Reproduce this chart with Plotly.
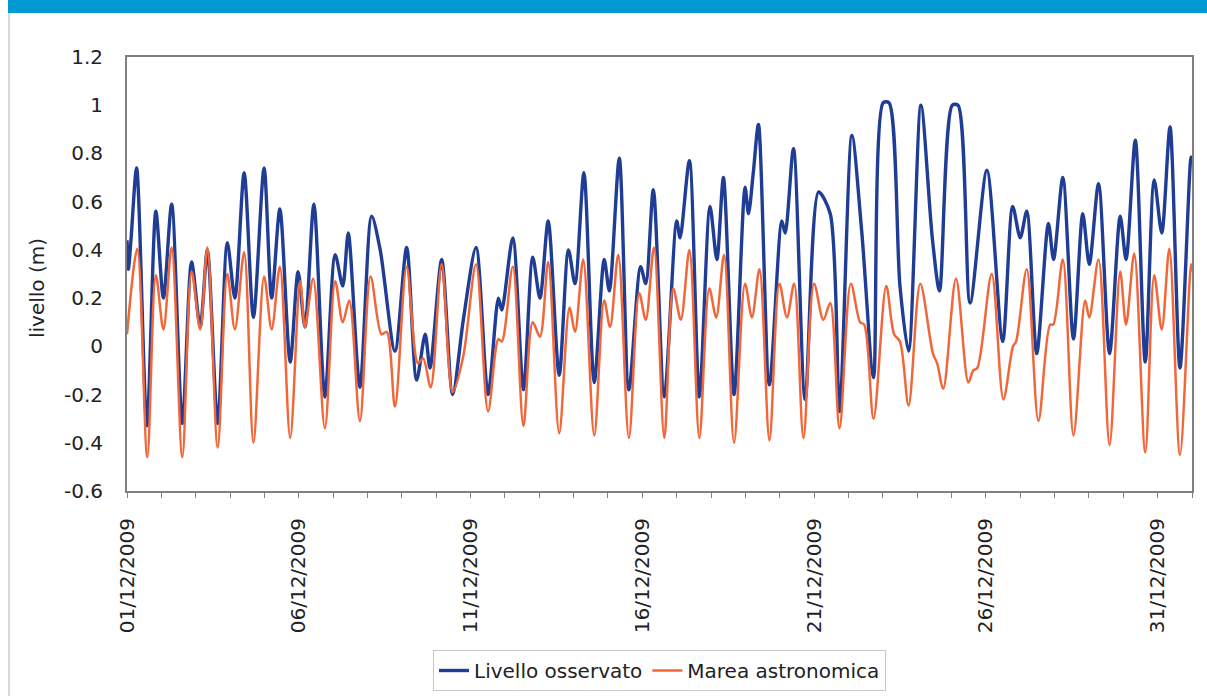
import pandas as pd
import plotly.graph_objects as go

# ---- data ----
start_date = "2009-12-01"

obs_day = [0.00, 0.04, 0.12, 0.28, 0.58, 0.84, 1.06, 1.30, 1.61, 1.88, 2.13, 2.34, 2.64, 2.92, 3.14, 3.41,
           3.68, 3.99, 4.21, 4.45, 4.75, 4.98, 5.18, 5.44, 5.76, 6.06, 6.28, 6.44, 6.78, 7.12, 7.37, 7.80,
           8.14, 8.43, 8.68, 8.82, 9.16, 9.48, 9.79, 10.16, 10.51, 10.81, 10.91, 11.23, 11.54, 11.81, 12.02,
           12.26, 12.58, 12.85, 13.04, 13.30, 13.60, 13.89, 14.04, 14.33, 14.61, 14.95, 15.10, 15.32, 15.64,
           16.00, 16.10, 16.37, 16.66, 16.97, 17.17, 17.36, 17.67, 17.99, 18.09, 18.23, 18.38, 18.70, 19.06,
           19.16, 19.40, 19.74, 20.13, 20.47, 20.74, 21.10, 21.39, 21.73, 22.01, 22.18, 22.50, 22.75, 23.11,
           23.44, 23.65, 24.02, 24.19, 24.54, 25.03, 25.49, 25.78, 26.00, 26.19, 26.48, 26.82, 26.97, 27.24,
           27.55, 27.82, 28.01, 28.28, 28.60, 28.91, 29.08, 29.35, 29.64, 29.90, 30.12, 30.36, 30.65, 30.97,
           31.00]
obs_level = [0.44, 0.32, 0.45, 0.74, -0.33, 0.56, 0.20, 0.59, -0.32, 0.35, 0.08, 0.40, -0.32, 0.43, 0.20, 0.72,
             0.12, 0.74, 0.20, 0.57, -0.065, 0.31, 0.08, 0.59, -0.21, 0.38, 0.25, 0.47, -0.17, 0.54, 0.40, -0.02,
             0.41, -0.14, 0.05, -0.09, 0.36, -0.20, 0.11, 0.41, -0.20, 0.20, 0.15, 0.45, -0.18, 0.37, 0.20,
             0.52, -0.12, 0.40, 0.26, 0.72, -0.15, 0.36, 0.23, 0.78, -0.18, 0.33, 0.26, 0.65, -0.21,
             0.52, 0.45, 0.77, -0.21, 0.58, 0.36, 0.70, -0.20, 0.66, 0.55, 0.72, 0.92, -0.16, 0.52,
             0.47, 0.82, -0.22, 0.64, 0.55, -0.27, 0.875, 0.47, -0.13, 1.01, 1.01, 0.25, -0.02, 1.00,
             0.45, 0.23, 1.00, 1.00, 0.18, 0.73, 0.02, 0.58, 0.45, 0.56, -0.03, 0.51, 0.36, 0.70,
             0.03, 0.55, 0.34, 0.675, -0.03, 0.54, 0.36, 0.855, -0.065, 0.69, 0.47, 0.91, -0.09, 0.785,
             0.76]

tide_day = [0.00, 0.30, 0.59, 0.84, 1.06, 1.30, 1.61, 1.88, 2.13, 2.34, 2.64, 2.92, 3.14, 3.41, 3.68, 3.99,
            4.21, 4.45, 4.75, 5.04, 5.18, 5.42, 5.76, 6.06, 6.28, 6.47, 6.78, 7.09, 7.41, 7.56, 7.80, 8.14,
            8.47, 8.62, 8.84, 9.16, 9.48, 9.79, 10.16, 10.51, 10.81, 10.91, 11.23, 11.54, 11.81, 12.02, 12.26,
            12.58, 12.88, 13.04, 13.28, 13.60, 13.89, 14.06, 14.30, 14.61, 14.91, 15.10, 15.34, 15.64, 15.90,
            16.12, 16.37, 16.66, 16.95, 17.15, 17.38, 17.67, 17.99, 18.19, 18.41, 18.70, 18.99, 19.21, 19.42,
            19.69, 20.00, 20.27, 20.47, 20.74, 21.07, 21.34, 21.46, 21.73, 22.10, 22.33, 22.50, 22.75, 23.09,
            23.46, 23.58, 23.76, 24.13, 24.49, 24.63, 24.75, 25.17, 25.51, 25.79, 25.88, 26.19, 26.53, 26.87,
            26.96, 27.24, 27.55, 27.89, 28.01, 28.28, 28.60, 28.91, 29.08, 29.32, 29.64, 29.90, 30.12, 30.34,
            30.65, 30.97, 31.00]
tide_level = [0.05, 0.405, -0.46, 0.295, 0.07, 0.41, -0.46, 0.31, 0.07, 0.41, -0.42, 0.30, 0.07, 0.39, -0.40, 0.29,
              0.07, 0.33, -0.38, 0.27, 0.08, 0.28, -0.34, 0.27, 0.10, 0.19, -0.31, 0.29, 0.05, 0.06, -0.25, 0.33,
              -0.07, -0.05, -0.17, 0.34, -0.19, -0.04, 0.34, -0.27, 0.03, 0.02, 0.33, -0.33, 0.10, 0.04, 0.35,
              -0.36, 0.16, 0.06, 0.36, -0.37, 0.19, 0.08, 0.38, -0.38, 0.22, 0.11, 0.41, -0.38, 0.24,
              0.11, 0.40, -0.38, 0.24, 0.12, 0.38, -0.40, 0.26, 0.12, 0.32, -0.39, 0.26, 0.12, 0.26,
              -0.38, 0.26, 0.11, 0.18, -0.34, 0.26, 0.10, 0.09, -0.30, 0.25, 0.05, 0.02, -0.245, 0.26,
              -0.03, -0.07, -0.175, 0.28, -0.15, -0.10, -0.09, 0.30, -0.22, 0.00, 0.02, 0.32, -0.31, 0.09,
              0.09, 0.36, -0.37, 0.19, 0.12, 0.36, -0.41, 0.31, 0.09, 0.385, -0.44, 0.295, 0.07, 0.405,
              -0.45, 0.34, 0.31]

series_names = ["Livello osservato", "Marea astronomica"]
y_ticks = [-0.6, -0.4, -0.2, 0, 0.2, 0.4, 0.6, 0.8, 1, 1.2]
y_tick_text = ["-0.6", "-0.4", "-0.2", "0", "0.2", "0.4", "0.6", "0.8", "1", "1.2"]
y_title = "livello (m)"

# ---- build ----
t0 = pd.Timestamp(start_date)
obs_time = t0 + pd.to_timedelta(obs_day, unit="D")
tide_time = t0 + pd.to_timedelta(tide_day, unit="D")

FONT = "DejaVu Sans"
TXT = "#222222"

fig = go.Figure()
fig.add_trace(go.Scatter(x=obs_time, y=obs_level, mode="lines", name=series_names[0],
                         line=dict(color="#1f3d94", width=3.4, shape="spline", smoothing=0.8)))
fig.add_trace(go.Scatter(x=tide_time, y=tide_level, mode="lines", name=series_names[1],
                         line=dict(color="#f2673a", width=2.5, shape="spline", smoothing=0.9)))

W, H = 1207, 696
L, R, T, B = 127, 15, 57, 205
pw, ph = W - L - R, H - T - B


def px(x):
    return (x - L) / pw


def py(y):
    return (H - B - y) / ph


fig.update_layout(
    width=W, height=H,
    margin=dict(l=L, r=R, t=T, b=B, autoexpand=False),
    paper_bgcolor="white", plot_bgcolor="white",
    font=dict(family=FONT, size=20, color=TXT),
    showlegend=True,
    legend=dict(orientation="h", x=0.5, xanchor="center", y=py(650), yanchor="top",
                bordercolor="#c8c8c8", borderwidth=1, bgcolor="white",
                font=dict(family=FONT, size=20, color=TXT), itemwidth=30,
                tracegroupgap=0),
    xaxis=dict(
        type="date", automargin=False,
        range=[t0, t0 + pd.Timedelta(days=31)],
        tick0=start_date, dtick=5 * 86400000,
        tickformat="%d/%m/%Y", tickangle=-90,
        ticks="outside", ticklen=5, tickcolor="#808080",
        minor=dict(dtick=86400000, tick0=start_date, ticks="outside", ticklen=5, tickcolor="#808080"),
        showline=True, linecolor="#808080", linewidth=2, mirror=True,
        showgrid=False, zeroline=False,
        ticklabelstandoff=12,
        tickfont=dict(family=FONT, size=20, color=TXT),
    ),
    yaxis=dict(
        automargin=False,
        range=[-0.6, 1.2], tickmode="array", tickvals=y_ticks, ticktext=y_tick_text,
        ticks="", showline=True, linecolor="#808080", linewidth=2, mirror=True,
        showgrid=False, zeroline=False,
        ticklabelstandoff=18,
        tickfont=dict(family=FONT, size=20, color=TXT),
    ),
    annotations=[dict(text=y_title, textangle=-90, xref="paper", yref="paper",
                      x=px(37), y=py(288), xanchor="center", yanchor="middle",
                      showarrow=False, font=dict(family=FONT, size=20, color=TXT))],
    shapes=[
        dict(type="rect", xref="paper", yref="paper", x0=px(8), x1=px(W), y0=py(13), y1=py(0),
             fillcolor="#0099d4", line=dict(width=0), layer="above"),
        dict(type="line", xref="paper", yref="paper", x0=px(9), x1=px(9), y0=py(13), y1=py(H),
             line=dict(color="#b0b0b0", width=1)),
    ],
)

fig.write_html("out.html", config={"displayModeBar": False},
               post_script="document.body.style.margin='0';document.body.style.overflow='hidden';")
